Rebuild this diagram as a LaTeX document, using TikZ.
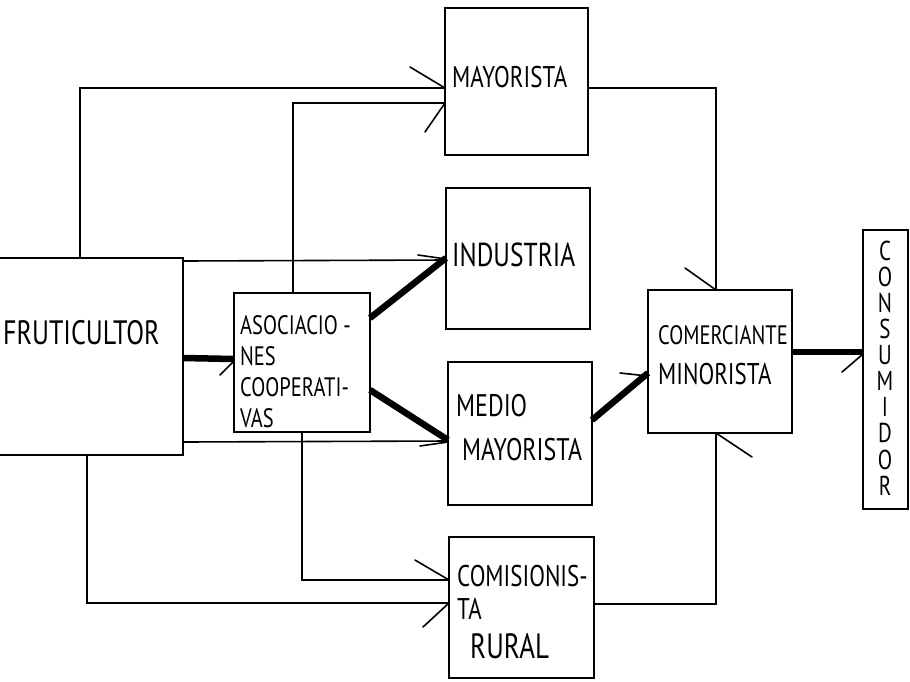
\documentclass[tikz,border=0pt]{standalone}
\usepackage{fontspec}
\usepackage{graphicx}
\setmainfont{PT Sans}
\newcommand{\hwtext}[1]{\scalebox{1}[1.3]{#1}}
\begin{document}
\begin{tikzpicture}[x=1pt,y=-1pt,
  box/.style={draw,line width=1.6pt,rectangle,anchor=north west,inner sep=0pt,outer sep=0pt},
  link/.style={line width=1.6pt},
  flow/.style={line width=6.5pt},
  barb/.style={line width=1.6pt,line cap=round},
  lbl/.style={inner sep=0pt,anchor=west,align=left}]
\useasboundingbox (0,0) rectangle (910,681);
\fill[white] (0,0) rectangle (910,681);
% boxes
\node[box,minimum width=185pt,minimum height=197pt] (fru) at (-2,258) {};
\node[box,minimum width=136pt,minimum height=139pt] (asoc) at (234,293) {};
\node[box,minimum width=143pt,minimum height=147pt] (may) at (445,8) {};
\node[box,minimum width=144pt,minimum height=141pt] (ind) at (446,188) {};
\node[box,minimum width=144pt,minimum height=143pt] (med) at (448,362) {};
\node[box,minimum width=145pt,minimum height=141pt] (com) at (449,537) {};
\node[box,minimum width=144pt,minimum height=143pt] (min) at (648,290) {};
\node[box,minimum width=45pt,minimum height=279pt] (con) at (863,230) {};
% labels
\node[lbl,font=\fontsize{26}{30}\selectfont] (tfru) at (3,333) {\hwtext{FRUTICULTOR}};
\node[lbl,anchor=north west,font=\fontsize{20.5}{31}\selectfont] (tasoc) at (240,315) {\hwtext{ASOCIACIO -}\\\hwtext{NES}\\\hwtext{COOPERATI-}\\\hwtext{VAS}};
\node[lbl,font=\fontsize{23}{30}\selectfont] (tmay) at (452,77) {\hwtext{MAYORISTA}};
\node[lbl,font=\fontsize{25.5}{30}\selectfont] (tind) at (452,255) {\hwtext{INDUSTRIA}};
\node[lbl,anchor=north west,font=\fontsize{24}{44}\selectfont] (tmed) at (456,394) {\hwtext{MEDIO}\\\hspace*{6pt}\hwtext{MAYORISTA}};
\node[lbl,anchor=north west,font=\fontsize{23}{33}\selectfont] (tcom) at (457,565) {\hwtext{COMISIONIS-}\\\hwtext{TA}\\[6pt]\hspace*{13pt}{\fontsize{27}{33}\selectfont\hwtext{RURAL}}};
\node[lbl,anchor=north west,font=\fontsize{20.5}{40}\selectfont] (tmin) at (658,325) {\hwtext{COMERCIANTE}\\{\fontsize{23}{40}\selectfont\hwtext{MINORISTA}}};
\node[lbl,anchor=center,align=center,font=\fontsize{21}{26.1}\selectfont] (tcon) at (885,368) {\hwtext{C}\\\hwtext{O}\\\hwtext{N}\\\hwtext{S}\\\hwtext{U}\\\hwtext{M}\\\hwtext{I}\\\hwtext{D}\\\hwtext{O}\\\hwtext{R}};
% thin connectors
\draw[link] (fru.north -| 80,0) |- (may.west |- 0,88);
\draw[link] (asoc.north -| 293,0) |- (may.west |- 0,103);
\draw[link] (fru.east |- 0,261) -- (ind.west |- 0,260);
\draw[link] (fru.east |- 0,442) -- (med.west |- 0,441);
\draw[link] (fru.south -| 87,0) |- (com.west |- 0,603);
\draw[link] (asoc.south -| 302,0) |- (com.west |- 0,580);
\draw[link] (may.east |- 0,88) -| (min.north -| 716,0);
\draw[link] (com.east |- 0,604) -| (min.south -| 716,0);
% thick flows
\draw[flow] (fru.east |- 0,358) -- (asoc.west |- 0,359);
\draw[flow] (asoc.east |- 0,318) -- (ind.west |- 0,258);
\draw[flow] (asoc.east |- 0,390) -- (med.west |- 0,440);
\draw[flow] (med.east |- 0,420) -- (min.west |- 0,373);
\draw[flow] (min.east |- 0,352) -- (con.west |- 0,352);
% half arrow barbs
\draw[barb] (410,67) -- (may.west |- 0,88);
\draw[barb] (425,132) -- (may.west |- 0,103);
\draw[barb] (418,255) -- (ind.west |- 0,259);
\draw[barb] (420,446) -- (med.west |- 0,442);
\draw[barb] (415,560) -- (com.west |- 0,580);
\draw[barb] (423,627) -- (com.west |- 0,603);
\draw[barb] (220,375) -- (asoc.west |- 0,361);
\draw[barb] (620,373) -- (min.west |- 0,376);
\draw[barb] (685,268) -- (min.north -| 716,0);
\draw[barb] (752,457) -- (min.south -| 716,0);
\draw[barb] (842,372) -- (con.west |- 0,354);
\end{tikzpicture}
\end{document}
